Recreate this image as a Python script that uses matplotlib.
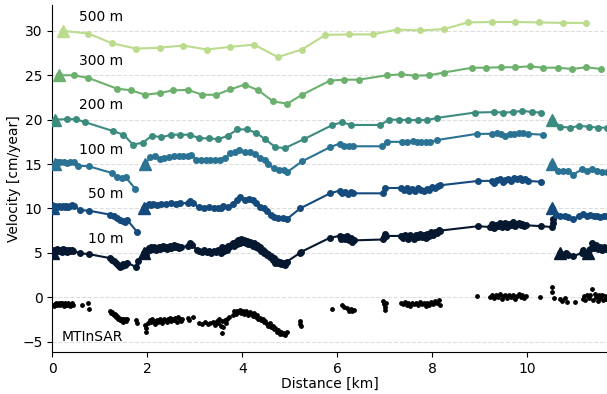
import numpy as np
import matplotlib
matplotlib.use("Agg")
import matplotlib.pyplot as plt

# line names, offsets and colours (bottom to top)
names = ["10 m", "50 m", "100 m", "200 m", "300 m", "500 m"]
bases = [5, 10, 15, 20, 25, 30]
colors = ["#06182f", "#144a7c", "#2b7394", "#3c8b7f", "#6cb06e", "#bbdc8c"]

# 10 m profile, one list per segment
x10 = [
    [0.02, 0.05, 0.08, 0.11, 0.14, 0.17, 0.20, 0.23, 0.26, 0.29, 0.32, 0.35, 0.38, 0.41, 0.44,
     0.59, 0.77, 1.22, 1.26, 1.30, 1.34, 1.38, 1.42, 1.46, 1.50, 1.54, 1.58, 1.76, 1.80],
    [1.93, 1.97, 2.00, 2.03, 2.06, 2.09, 2.12, 2.15, 2.18, 2.21, 2.24, 2.27, 2.30, 2.33, 2.36,
     2.39, 2.42, 2.45, 2.48, 2.51, 2.54, 2.57, 2.60, 2.63, 2.66, 2.69, 2.72, 2.86, 2.90, 2.95,
     3.05, 3.10, 3.15, 3.20, 3.25, 3.30, 3.35, 3.40, 3.45, 3.50, 3.55, 3.58, 3.61, 3.64, 3.67,
     3.70, 3.73, 3.77, 3.80, 3.83, 3.86, 3.89, 3.92, 3.95, 3.98, 4.01, 4.04, 4.07, 4.10, 4.13,
     4.16, 4.19, 4.22, 4.25, 4.28, 4.31, 4.34, 4.37, 4.40, 4.43, 4.46, 4.49, 4.52, 4.55, 4.58,
     4.61, 4.64, 4.67, 4.70, 4.73, 4.76, 4.79, 4.82, 4.85, 4.88, 4.91, 4.94, 5.22, 5.24, 5.85,
     6.05, 6.08, 6.12, 6.16, 6.20, 6.24, 6.28, 6.32, 6.35, 6.97, 6.98, 7.00, 7.02, 7.34, 7.38,
     7.42, 7.46, 7.50, 7.54, 7.58, 7.62, 7.66, 7.70, 7.74, 7.78, 7.82, 7.86, 7.90, 7.94, 7.98,
     8.02, 8.06, 8.10, 8.14, 8.17, 8.97, 9.22, 9.26, 9.30, 9.34, 9.38, 9.42, 9.46, 9.50, 9.54,
     9.58, 9.62, 9.66, 9.70, 9.74, 9.78, 9.82, 9.86, 9.90, 9.94, 9.98, 10.30, 10.52, 10.54, 10.55],
    [10.70, 10.76, 10.82, 10.86, 10.97, 11.15, 11.18, 11.22],
    [11.28, 11.33, 11.37, 11.41, 11.45, 11.49, 11.53, 11.57, 11.61, 11.65, 11.69],
]
y10 = [
    [5.0, 5.3, 5.2, 5.4, 5.2, 5.3, 5.1, 5.4, 5.2, 5.3, 5.1, 5.35, 5.2, 5.3, 5.2,
     4.95, 4.85, 4.4, 4.2, 4.1, 3.8, 3.6, 3.4, 3.5, 3.7, 3.6, 3.9, 3.4, 4.1],
    [5.0, 4.7, 5.3, 5.5, 5.3, 5.6, 5.4, 5.6, 5.3, 5.5, 5.7, 5.4, 5.6, 5.8, 5.5,
     5.7, 5.4, 5.6, 5.8, 5.5, 5.7, 5.9, 5.6, 5.8, 5.5, 5.7, 5.6, 5.8, 6.1, 5.9,
     5.3, 5.2, 5.1, 5.3, 5.1, 5.2, 5.0, 5.2, 5.1, 5.3, 5.0, 5.6, 5.2, 5.5, 5.3,
     5.8, 5.6, 5.9, 6.1, 5.8, 6.2, 6.0, 6.4, 6.1, 6.5, 6.2, 6.4, 6.1, 6.3, 6.0,
     6.2, 6.0, 5.8, 6.1, 5.7, 5.9, 5.5, 5.6, 5.2, 5.3, 5.0, 5.1, 4.7, 4.9, 4.5,
     4.6, 4.2, 4.4, 3.9, 4.1, 3.8, 4.0, 3.7, 3.9, 3.8, 3.6, 4.0, 5.0, 5.1, 6.7,
     6.9, 6.6, 6.8, 6.5, 6.9, 6.4, 6.7, 6.2, 6.4, 6.5, 6.8, 7.1, 6.9, 6.9, 6.7,
     7.0, 6.8, 6.6, 7.0, 6.8, 6.6, 7.0, 6.8, 7.1, 6.8, 7.0, 6.7, 7.1, 6.9, 7.3,
     7.0, 7.4, 7.2, 7.6, 7.5, 8.0, 7.9, 8.2, 7.8, 8.1, 8.0, 8.4, 7.9, 8.2, 8.4,
     7.9, 8.3, 8.1, 8.5, 8.0, 8.3, 8.4, 8.1, 8.3, 8.0, 8.1, 8.0, 7.9, 8.4, 8.8],
    [5.0, 4.8, 5.0, 4.7, 4.6, 5.0, 5.3, 4.9],
    [5.0, 5.4, 6.1, 5.5, 5.9, 5.4, 5.7, 5.3, 5.6, 5.4, 5.5],
]

x50 = [
    [0.02, 0.06, 0.10, 0.14, 0.18, 0.22, 0.26, 0.30, 0.34, 0.38, 0.42, 0.45, 0.59, 0.77,
     1.22, 1.30, 1.36, 1.42, 1.48, 1.54, 1.58, 1.78],
    [1.93, 1.98, 2.03, 2.08, 2.13, 2.20, 2.30, 2.40, 2.50, 2.60, 2.70, 2.86, 2.90, 2.96,
     3.08, 3.20, 3.30, 3.40, 3.50, 3.55, 3.60, 3.70, 3.80, 3.90, 3.96, 4.05, 4.15, 4.22,
     4.30, 4.38, 4.45, 4.52, 4.60, 4.67, 4.75, 4.85, 4.94, 5.22, 5.85, 6.05, 6.10, 6.16,
     6.22, 6.28, 6.34, 6.97, 7.00, 7.34, 7.40, 7.46, 7.52, 7.58, 7.64, 7.70, 7.76, 7.82,
     7.88, 7.94, 8.00, 8.06, 8.12, 8.16, 8.97, 9.26, 9.30, 9.36, 9.42, 9.48, 9.54, 9.60,
     9.66, 9.72, 9.78, 9.84, 9.90, 9.96, 10.02, 10.30],
    [10.52, 10.60, 10.70, 10.80, 10.85, 10.97, 11.10, 11.18, 11.26, 11.33, 11.40, 11.46,
     11.54, 11.62, 11.68],
]
y50 = [
    [10.0, 10.3, 10.2, 10.3, 10.2, 10.3, 10.2, 10.3, 10.2, 10.3, 10.4, 10.3, 9.8, 9.75,
     9.3, 9.1, 8.9, 8.7, 8.6, 8.5, 8.7, 7.4],
    [10.0, 10.3, 10.5, 10.4, 10.5, 10.4, 10.5, 10.5, 10.6, 10.5, 10.6, 10.6, 10.8, 10.6,
     10.2, 10.1, 10.2, 10.0, 10.1, 10.0, 10.3, 10.2, 10.5, 10.9, 11.3, 11.0, 11.1, 11.0,
     10.6, 10.2, 10.0, 9.7, 9.3, 9.0, 8.9, 8.9, 8.8, 10.0, 11.7, 12.0, 11.7, 11.9,
     11.6, 11.8, 11.7, 11.7, 12.3, 12.3, 12.1, 12.3, 12.0, 12.2, 12.0, 12.3, 12.1, 12.0,
     12.2, 12.1, 12.4, 12.3, 12.5, 12.6, 13.1, 13.1, 12.9, 13.2, 13.3, 13.0, 13.2, 13.3,
     13.1, 13.4, 13.3, 13.4, 13.2, 13.3, 13.1, 13.0],
    [10.0, 9.3, 9.2, 9.2, 9.0, 8.8, 9.2, 9.4, 9.2, 9.3, 9.1, 9.2, 9.0, 9.1, 9.1],
]

x100 = [
    [0.05, 0.10, 0.17, 0.24, 0.31, 0.38, 0.45, 0.55, 0.77, 1.25, 1.36, 1.46, 1.55, 1.75],
    [1.96, 2.06, 2.17, 2.26, 2.36, 2.46, 2.56, 2.66, 2.76, 2.86, 2.93, 3.03, 3.13, 3.23,
     3.33, 3.43, 3.53, 3.64, 3.75, 3.85, 3.94, 4.06, 4.17, 4.26, 4.38, 4.48, 4.55, 4.66,
     4.78, 4.88, 4.95, 5.26, 5.85, 6.05, 6.15, 6.25, 6.34, 6.95, 7.05, 7.37, 7.46, 7.60,
     7.68, 7.77, 7.86, 7.96, 8.10, 8.94, 9.26, 9.36, 9.45, 9.54, 9.63, 9.72, 9.82, 9.92,
     10.02, 10.34],
    [10.52, 10.65, 10.75, 10.86, 10.97, 11.15, 11.25, 11.37, 11.47, 11.58, 11.68],
]
y100 = [
    [15.0, 15.2, 15.2, 15.2, 15.1, 15.2, 15.2, 14.8, 14.75, 14.0, 13.5, 13.4, 13.5, 12.2],
    [15.0, 15.75, 15.9, 15.6, 15.7, 15.8, 15.9, 15.9, 15.9, 15.9, 16.0, 15.5, 15.4, 15.4,
     15.5, 15.4, 15.4, 15.7, 16.2, 16.3, 16.6, 16.4, 16.4, 16.1, 15.7, 15.4, 15.0, 14.5,
     14.3, 14.3, 14.1, 15.3, 16.9, 17.3, 17.0, 17.0, 17.0, 17.0, 17.5, 17.5, 17.5, 17.6,
     17.5, 17.45, 17.45, 17.5, 17.7, 18.4, 18.4, 18.5, 18.4, 18.2, 18.4, 18.4, 18.5, 18.55,
     18.4, 18.3],
    [15.0, 14.2, 14.2, 14.2, 13.8, 14.4, 14.2, 14.4, 14.2, 14.1, 14.1],
]

x200 = [
    [0.05, 0.31, 0.50, 0.70, 1.29, 1.50, 1.70, 1.91, 2.10, 2.30, 2.50, 2.70, 2.90, 3.10,
     3.30, 3.50, 3.70, 3.90, 4.10, 4.30, 4.48, 4.70, 4.90, 5.30, 5.90, 6.10, 6.30, 6.90,
     7.10, 7.30, 7.50, 7.70, 7.90, 8.10, 8.90, 9.30, 9.50, 9.70, 9.90, 10.10, 10.30],
    [10.52, 10.70, 10.90, 11.10, 11.30, 11.50, 11.68],
]
y200 = [
    [20.0, 20.05, 20.05, 19.7, 18.7, 18.3, 17.2, 17.4, 18.2, 18.0, 18.3, 18.3, 18.3, 17.9,
     17.9, 17.8, 18.2, 18.9, 18.9, 18.5, 17.8, 16.9, 16.8, 17.8, 19.4, 19.7, 19.4, 19.4,
     20.0, 20.0, 19.95, 19.95, 19.95, 20.2, 20.8, 20.85, 20.8, 20.85, 21.0, 20.85, 20.8],
    [20.0, 19.2, 19.1, 19.3, 19.2, 19.1, 19.1],
]

x300 = [[0.15, 0.45, 0.76, 1.36, 1.66, 1.96, 2.26, 2.55, 2.86, 3.16, 3.45, 3.75, 4.05, 4.34,
         4.65, 4.95, 5.26, 5.85, 6.15, 6.45, 7.05, 7.35, 7.64, 7.94, 8.24, 8.84, 9.14, 9.45,
         9.75, 10.05, 10.34, 10.65, 10.95, 11.24, 11.56]]
y300 = [[25.0, 25.0, 24.7, 23.5, 23.3, 22.8, 23.0, 23.3, 23.35, 22.8, 22.8, 23.4, 23.95, 23.3,
         22.05, 21.8, 22.8, 24.4, 24.5, 24.5, 25.0, 25.1, 24.95, 25.0, 25.3, 25.85, 25.85, 25.9,
         25.9, 26.0, 25.85, 25.85, 25.7, 25.9, 25.7]]

x500 = [[0.23, 0.76, 1.26, 1.77, 2.26, 2.76, 3.26, 3.75, 4.25, 4.75, 5.26, 5.75, 6.25, 6.75,
         7.26, 7.75, 8.25, 8.75, 9.25, 9.75, 10.25, 10.75, 11.24]]
y500 = [[30.0, 29.7, 28.6, 28.0, 28.1, 28.35, 27.9, 28.2, 28.45, 27.05, 27.9, 29.55, 29.6, 29.6,
         30.15, 30.05, 30.2, 30.95, 31.0, 31.0, 30.95, 30.9, 30.9]]

# MTInSAR points
ins_x = [0.00, 0.03, 0.06, 0.08, 0.10, 0.12, 0.14, 0.16, 0.18, 0.20, 0.22, 0.24, 0.26, 0.28,
         0.30, 0.32, 0.34, 0.36, 0.38, 0.40, 0.42, 0.44, 0.63, 0.76, 0.77,
         1.22, 1.24, 1.26, 1.28, 1.30, 1.32, 1.34, 1.36, 1.38, 1.40, 1.42, 1.44, 1.46, 1.48,
         1.50, 1.52, 1.54, 1.56, 1.58, 1.76, 1.78, 1.96, 1.97, 1.98,
         2.02, 2.05, 2.08, 2.11, 2.14, 2.17, 2.20, 2.23, 2.26, 2.29, 2.32, 2.35, 2.38, 2.41,
         2.44, 2.47, 2.50, 2.53, 2.56, 2.59, 2.62, 2.65, 2.68, 2.71, 2.74, 2.86, 2.88, 2.96,
         3.08, 3.15, 3.22, 3.28, 3.33, 3.38, 3.42, 3.46, 3.50, 3.52, 3.55, 3.57, 3.60, 3.58,
         3.63, 3.66, 3.69, 3.72,
         3.80, 3.83, 3.86, 3.89, 3.92, 3.95, 3.98, 4.01, 4.04, 4.07, 4.10, 4.13, 4.16, 4.19,
         4.22, 4.25, 4.28, 4.31, 4.34, 4.37, 4.40, 4.43, 4.46, 4.49, 4.52, 4.55, 4.58, 4.61,
         4.64, 4.67, 4.70, 4.73, 4.76, 4.79, 4.82, 4.85, 4.88, 4.91, 4.94, 5.21, 5.22, 5.23,
         5.90, 6.10, 6.14, 6.20, 6.24, 6.28, 6.32, 6.35, 6.97, 6.98, 7.00, 7.01, 7.02,
         7.34, 7.38, 7.42, 7.46, 7.50, 7.54, 7.58, 7.62, 7.66, 7.70, 7.74, 7.78, 7.82, 7.86,
         7.90, 7.94, 7.98, 8.02, 8.06, 8.10, 8.14, 8.16, 8.95,
         9.22, 9.26, 9.30, 9.34, 9.38, 9.42, 9.46, 9.50, 9.54, 9.58, 9.62, 9.66, 9.70, 9.74,
         9.78, 9.82, 9.86, 9.90, 9.94, 9.98, 10.27, 10.52, 10.53, 10.57, 10.70, 10.74, 10.80,
         10.84, 11.00, 11.18, 11.20, 11.22, 11.26, 11.30, 11.33, 11.36, 11.38, 11.42, 11.45,
         11.48, 11.51, 11.54, 11.57, 11.60, 11.63, 11.66, 11.69]
ins_y = [-0.85, -0.95, -0.8, -0.7, -0.9, -0.75, -0.65, -0.85, -0.7, -0.6, -0.8, -0.95, -0.7, -0.85,
         -0.75, -0.9, -0.65, -0.8, -1.0, -0.85, -0.7, -0.9, -0.85, -0.7, -1.3,
         -1.6, -1.8, -1.7, -1.9, -2.0, -1.85, -2.2, -2.1, -2.4, -2.3, -2.6, -2.45, -2.7, -2.5,
         -2.8, -2.6, -2.4, -2.7, -2.5, -2.6, -2.9, -3.1, -3.5, -3.9,
         -2.9, -2.6, -2.8, -2.5, -2.7, -3.0, -2.6, -2.8, -2.5, -2.7, -2.9, -2.4, -2.6, -2.8,
         -2.5, -2.3, -2.7, -2.4, -2.6, -2.3, -2.8, -2.2, -2.5, -2.7, -2.4, -2.3, -2.6, -2.2,
         -2.9, -3.0, -2.8, -3.0, -2.9, -2.8, -3.1, -2.7, -2.9, -2.5, -3.2, -2.7, -3.4, -4.0,
         -2.6, -2.9, -2.4, -2.2,
         -2.0, -1.6, -1.9, -1.5, -1.7, -1.4, -1.8, -1.6, -1.9, -1.5, -1.8, -2.0, -1.7, -1.9,
         -2.1, -1.8, -2.2, -2.0, -2.4, -2.3, -2.6, -2.5, -2.8, -2.7, -3.0, -3.2, -2.9, -3.4,
         -3.3, -3.6, -3.5, -3.9, -3.7, -4.1, -3.9, -4.2, -4.0, -4.3, -3.9, -2.7, -3.0, -3.3,
         -1.35, -0.9, -1.1, -1.2, -1.5, -1.3, -1.6, -1.4, -0.4, -0.8, -1.1, -1.4, -0.6,
         -0.6, -0.8, -0.5, -0.9, -0.7, -1.0, -0.6, -0.8, -0.7, -0.9, -0.5, -0.8, -0.6, -1.0,
         -0.7, -0.9, -0.5, -0.8, -0.4, -0.7, -0.3, -0.9, 0.1,
         0.0, 0.3, -0.1, 0.2, 0.0, 0.4, -0.2, 0.1, 0.3, -0.1, 0.2, 0.0, 0.3, -0.2,
         0.1, 0.4, 0.0, 0.2, -0.1, 0.1, 0.0, 1.1, 0.6, -0.1, -0.2, -0.4, -0.1,
         -0.5, -0.5, -0.2, 0.1, -0.3, 0.3, -0.1, 0.2, 0.9, -0.3, 0.4, 0.0,
         -0.4, 0.2, -0.1, 0.3, -0.3, 0.1, -0.2, 0.0]

all_x = [x10, x50, x100, x200, x300, x500]
all_y = [y10, y50, y100, y200, y300, y500]

fig = plt.figure(figsize=(6.07, 3.94), dpi=100)
ax = fig.add_axes([0.086, 0.106, 0.914, 0.881])

for name, base, col, xs, ys in zip(names, bases, colors, all_x, all_y):
    for sx, sy in zip(xs, ys):
        ax.plot(sx, sy, "-o", color=col, lw=1.5, ms=4, zorder=3)
        ax.plot(sx[0], sy[0], "^", color=col, ms=9, zorder=4)
    ax.text(1.5, base + 1.6, name, ha="right", va="center", fontsize=10)

ax.scatter(ins_x, ins_y, s=6, color="black", zorder=3)
ax.text(1.5, -4.45, "MTInSAR", ha="right", va="center", fontsize=10)

ax.set_xlim(0, 11.68)
ax.set_ylim(-6.2, 32.9)
ax.set_yticks([-5, 0, 5, 10, 15, 20, 25, 30])
ax.set_xticks([0, 2, 4, 6, 8, 10])
ax.yaxis.grid(True, ls="--", color="#dddddd", lw=0.8)
ax.set_axisbelow(True)
ax.spines["top"].set_visible(False)
ax.spines["right"].set_visible(False)
ax.set_xlabel("Distance [km]", labelpad=0.5)
ax.set_ylabel("Velocity [cm/year]", labelpad=0.5)

fig.savefig("out.png", dpi=100)
